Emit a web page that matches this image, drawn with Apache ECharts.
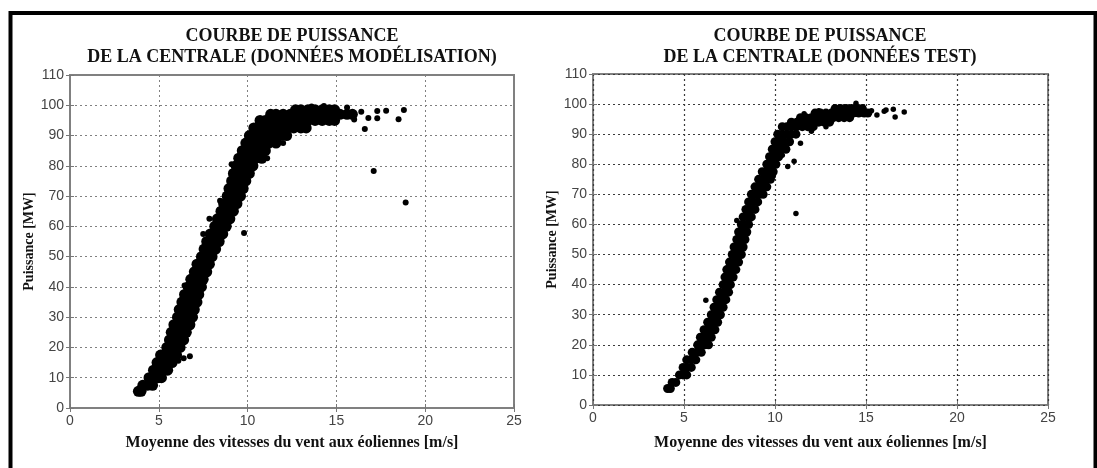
<!DOCTYPE html>
<html><head><meta charset="utf-8">
<script src="https://cdn.jsdelivr.net/npm/echarts@6/dist/echarts.min.js"></script>
<style>html,body{margin:0;padding:0;background:#fff}#c{width:1097px;height:468px}</style>
</head><body><div id="c"></div>
<script>
// ---- data ----
const titleModel = ['COURBE DE PUISSANCE', 'DE LA CENTRALE (DONNÉES MODÉLISATION)'];
const titleTest = ['COURBE DE PUISSANCE', 'DE LA CENTRALE (DONNÉES TEST)'];
const xAxisName = 'Moyenne des vitesses du vent aux éoliennes [m/s]';
const yAxisName = 'Puissance [MW]';
const xRange = [0, 25, 5];
const yRange = [0, 110, 10];

// dense cloud, model data: [power MW, [wind speeds m/s ...]]
const modelRows = [
  [5.5,[3.85,4.0]],
  [7.5,[4.1,4.35,4.65]],
  [10,[4.45,4.7,4.95,5.15]],
  [12.5,[4.7,4.95,5.25,5.5]],
  [15,[4.9,5.15,5.45,5.75]],
  [17.5,[5.1,5.35,5.65,6.0]],
  [20,[5.45,5.7,5.95,6.2]],
  [22.5,[5.6,5.85,6.1,6.4]],
  [25,[5.7,5.95,6.25,6.55]],
  [27.5,[5.85,6.1,6.4,6.75]],
  [30,[6.05,6.3,6.6,6.9]],
  [32.5,[6.15,6.4,6.7,7.0]],
  [35,[6.3,6.55,6.85,7.15]],
  [37.5,[6.45,6.7,6.95,7.25]],
  [40,[6.65,6.9,7.15,7.4]],
  [42.5,[6.8,7.05,7.3,7.5]],
  [45,[7.0,7.25,7.5,7.7]],
  [47.5,[7.15,7.4,7.6,7.85]],
  [50,[7.4,7.6,7.8,8.0]],
  [52.5,[7.55,7.75,7.95,8.2]],
  [55,[7.7,7.9,8.15,8.4]],
  [57.5,[7.9,8.1,8.35,8.6]],
  [60,[8.15,8.35,8.6,8.8]],
  [62.5,[8.3,8.5,8.75,9.0]],
  [65,[8.5,8.7,8.95,9.2]],
  [67.5,[8.65,8.85,9.1,9.4]],
  [70,[8.85,9.05,9.3,9.6]],
  [72.5,[8.95,9.15,9.45,9.75]],
  [75,[9.1,9.3,9.6,9.9]],
  [77.5,[9.2,9.45,9.75,10.1]],
  [80,[9.35,9.6,9.95,10.3]],
  [82.5,[9.5,9.75,10.1,10.45,10.8]],
  [85,[9.7,9.95,10.3,10.65,11.0]],
  [87.5,[9.9,10.15,10.5,10.85,11.2,11.6]],
  [90,[10.1,10.35,10.7,11.05,11.45,11.85,12.2]],
  [92.5,[10.35,10.6,11.0,11.4,11.8,12.2,12.6,13.0,13.3]],
  [95,[10.7,11.0,11.4,11.8,12.2,12.6,13.0,13.4,13.8,14.2,14.6,14.9]],
  [97,[11.3,11.6,12.0,12.4,12.8,13.2,13.6,14.0,14.4,14.8,15.2,15.6,15.9]],
  [98.5,[12.7,13.0,13.4,13.8,14.2,14.6,14.9]]
];
// isolated points, model data: [wind m/s, power MW]
const modelSparse = [
  [5.8,15.2],[6.1,15.6],[6.4,16.4],[6.75,17.1],
  [9.8,57.8],[11.1,82.5],[12.0,87.5],
  [16.0,95.3],[16.6,92.2],[16.8,95.8],[17.3,98.1],[17.3,95.7],[17.8,98.2],
  [18.5,95.4],[18.8,98.4],[17.1,78.3],[18.9,67.9],
  [16.4,97.9],[15.6,99.3],[13.6,99.6],[14.3,99.8],
  [6.45,40.5],[7.5,57.5],[7.85,62.5],[8.45,68.5],[9.1,80.5]
];

// dense cloud, test data: [power MW, [wind speeds m/s ...]]
const testRows = [
  [5.5,[4.1,4.25]],
  [7.5,[4.35,4.55]],
  [10,[4.75,4.95,5.15]],
  [12.5,[4.95,5.15,5.4]],
  [15,[5.15,5.4,5.65]],
  [17.5,[5.45,5.7,5.95]],
  [20,[5.75,5.95,6.15,6.35]],
  [22.5,[5.9,6.1,6.3,6.5]],
  [25,[6.1,6.3,6.5,6.7]],
  [27.5,[6.3,6.5,6.7,6.85]],
  [30,[6.5,6.75,7.0]],
  [32.5,[6.65,6.9,7.15]],
  [35,[6.8,7.05,7.3]],
  [37.5,[6.95,7.2,7.45]],
  [40,[7.15,7.35,7.55]],
  [42.5,[7.25,7.5,7.7]],
  [45,[7.35,7.6,7.85]],
  [47.5,[7.5,7.75,8.0]],
  [50,[7.65,7.9,8.15]],
  [52.5,[7.75,8.0,8.25]],
  [55,[7.9,8.1,8.35]],
  [57.5,[8.0,8.2,8.45]],
  [60,[8.15,8.35,8.55]],
  [62.5,[8.25,8.5,8.7]],
  [65,[8.4,8.65,8.9]],
  [67.5,[8.55,8.8,9.05]],
  [70,[8.7,8.95,9.15,9.35]],
  [72.5,[8.9,9.15,9.35,9.55]],
  [75,[9.1,9.35,9.55,9.75]],
  [77.5,[9.3,9.5,9.7,9.9]],
  [80,[9.55,9.8,10.05]],
  [82.5,[9.7,9.95,10.2]],
  [85,[9.85,10.1,10.35,10.6]],
  [87.5,[10.0,10.25,10.5,10.8]],
  [90,[10.15,10.4,10.65,10.9,11.15]],
  [92.5,[10.4,10.65,10.9,11.2,11.5,11.8,12.1]],
  [94,[10.9,11.2,11.5,11.8,12.1,12.4,12.7,13.0]],
  [95.5,[11.4,11.7,12.0,12.3,12.6,12.9,13.2,13.5,13.8,14.1]],
  [97,[12.2,12.5,12.8,13.1,13.4,13.7,14.0,14.3,14.6,14.9,15.1]],
  [98.5,[13.3,13.6,13.9,14.2,14.5,14.8]]
];
// isolated points, test data: [wind m/s, power MW]
const testSparse = [
  [6.2,34.8],[7.9,61.3],[10.7,79.3],[11.05,81.0],[11.4,87.0],[11.15,63.6],
  [14.45,100.3],[15.6,96.4],[16.1,98.0],[16.5,98.3],[16.6,95.7],[17.1,97.4],
  [16.0,97.6],[15.3,97.8],[12.0,91.0],[12.8,92.5],[9.9,76.0],[10.4,83.0],
  [11.6,96.8],[12.4,97.8]
];

function rowsToPoints(rows) {
  const out = [];
  rows.forEach(([y, xs]) => xs.forEach(x => out.push([x, y])));
  return out;
}

// ---- chart ----
const chart = echarts.init(document.getElementById('c'), null, {renderer: 'canvas'});
const serif = '"Liberation Serif","Times New Roman",serif';
const sans = '"Liberation Sans",Arial,sans-serif';

function xAxisFor(gi, gridColor, gridW, gap) {
  return {
    type: 'value', gridIndex: gi, min: xRange[0], max: xRange[1], interval: xRange[2],
    name: xAxisName, nameLocation: 'middle', nameGap: gap,
    nameTextStyle: {fontFamily: serif, fontWeight: 'bold', fontSize: 16, color: '#111'},
    axisLine: {show: false},
    axisTick: {show: true, inside: true, length: 4, lineStyle: {color: '#777'}},
    axisLabel: {fontFamily: sans, fontSize: 14, color: '#444', margin: 6},
    splitLine: {show: true, lineStyle: {type: [2, 3], color: gridColor, width: gridW}}
  };
}
function yAxisFor(gi, gridColor, gridW) {
  return {
    type: 'value', gridIndex: gi, min: yRange[0], max: yRange[1], interval: yRange[2],
    name: yAxisName, nameLocation: 'middle', nameGap: 30,
    nameTextStyle: {fontFamily: serif, fontWeight: 'bold', fontSize: 14, color: '#111'},
    axisLine: {show: false},
    axisTick: {show: true, inside: true, length: 4, lineStyle: {color: '#777'}},
    axisLabel: {fontFamily: sans, fontSize: 14, color: '#444', margin: 6},
    splitLine: {show: true, lineStyle: {type: [2, 3], color: gridColor, width: gridW}}
  };
}
function xTop(gi) {
  return {type: 'value', gridIndex: gi, position: 'top', min: xRange[0], max: xRange[1], interval: xRange[2],
    axisLine: {show: false}, axisLabel: {show: false}, splitLine: {show: false},
    axisTick: {show: true, inside: true, length: 4, lineStyle: {color: '#777'}}};
}
function yRight(gi) {
  return {type: 'value', gridIndex: gi, position: 'right', min: yRange[0], max: yRange[1], interval: yRange[2],
    axisLine: {show: false}, axisLabel: {show: false}, splitLine: {show: false},
    axisTick: {show: true, inside: true, length: 4, lineStyle: {color: '#777'}}};
}

function titleText(lines, cx) {
  return lines.map((t, i) => ({
    type: 'text', x: cx, y: 36 + i * 21, silent: true,
    style: {text: t, fontFamily: serif, fontWeight: 'bold', fontSize: 18, fill: '#111',
      align: 'center', verticalAlign: 'middle'}
  }));
}

const dot = {color: '#000', opacity: 1};

chart.setOption({
  animation: false,
  backgroundColor: '#fff',
  grid: [
    {left: 70, right: 583, top: 75, bottom: 60, show: true, borderColor: '#808080', borderWidth: 2},
    {left: 593, right: 49, top: 74, bottom: 63, show: true, borderColor: '#808080', borderWidth: 2}
  ],
  xAxis: [xAxisFor(0, '#808080', 1, 27), xAxisFor(1, '#3a3a3a', 1.2, 30), xTop(0), xTop(1)],
  yAxis: [yAxisFor(0, '#808080', 1), yAxisFor(1, '#3a3a3a', 1.2), yRight(0), yRight(1)],
  graphic: [
    {type: 'rect', silent: true, shape: {x: 10.5, y: 13, width: 1085, height: 500},
     style: {fill: 'transparent', stroke: '#000', lineWidth: 4}},
    ...titleText(titleModel, 292),
    ...titleText(titleTest, 820)
  ],
  series: [
    {type: 'scatter', xAxisIndex: 0, yAxisIndex: 0, data: rowsToPoints(modelRows), symbolSize: 11,
     itemStyle: dot, silent: true},
    {type: 'scatter', xAxisIndex: 0, yAxisIndex: 0, data: modelSparse, symbolSize: 6,
     itemStyle: dot, silent: true},
    {type: 'scatter', xAxisIndex: 1, yAxisIndex: 1, data: rowsToPoints(testRows), symbolSize: 9,
     itemStyle: dot, silent: true},
    {type: 'scatter', xAxisIndex: 1, yAxisIndex: 1, data: testSparse, symbolSize: 5.5,
     itemStyle: dot, silent: true}
  ]
});
</script></body></html>
